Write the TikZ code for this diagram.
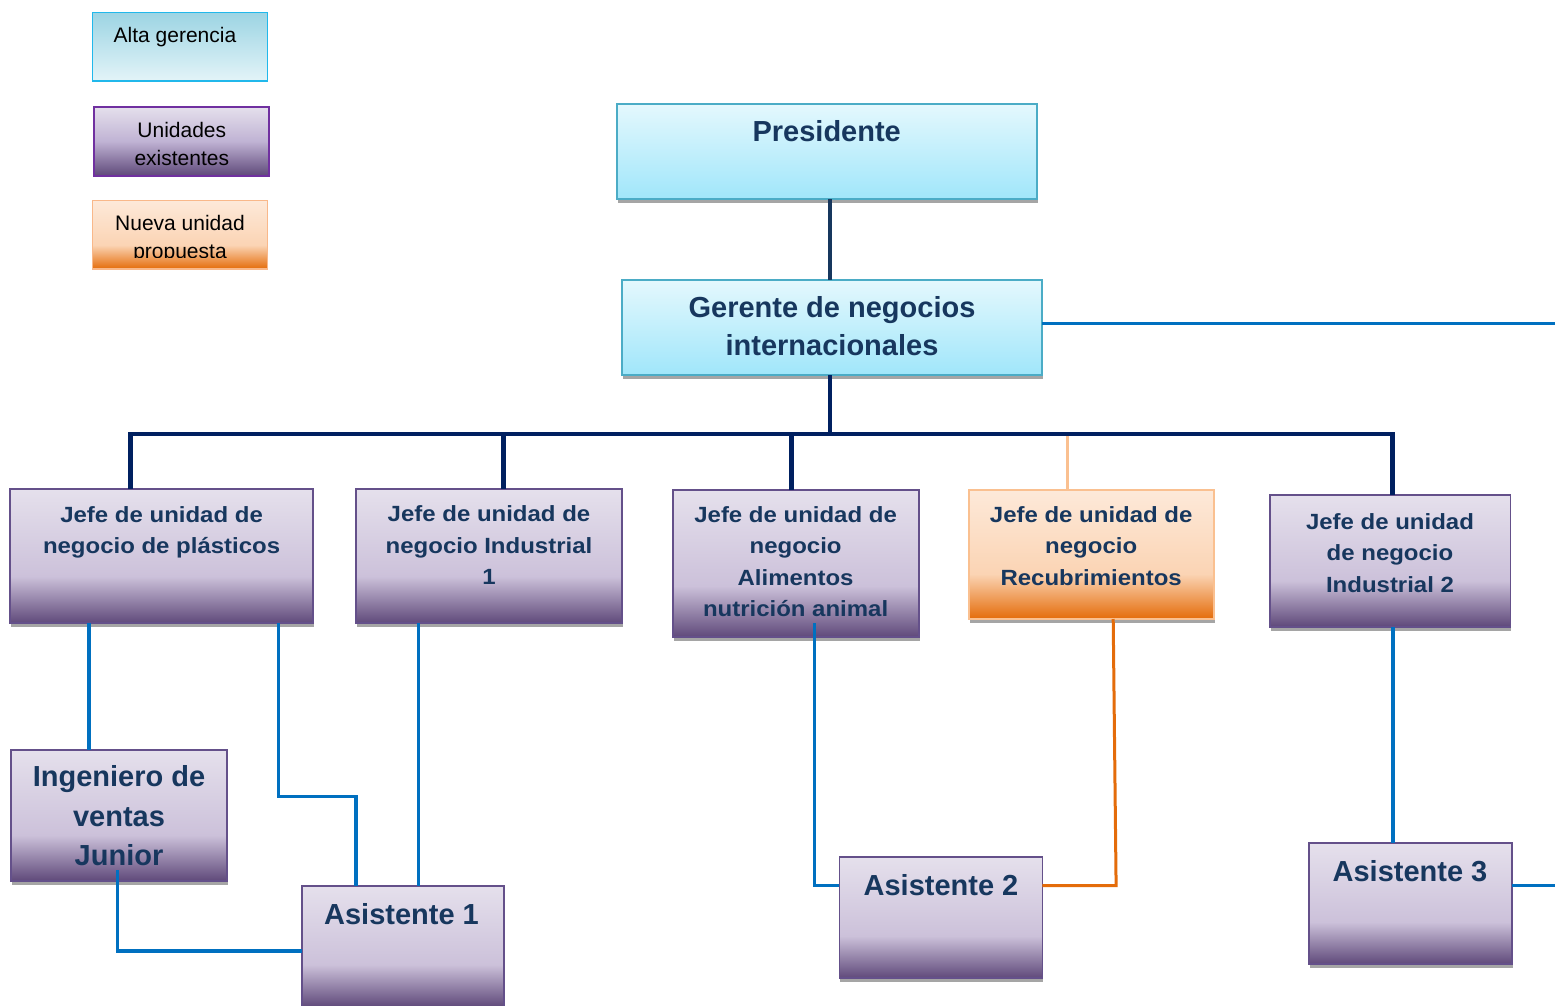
\documentclass[tikz,border=0pt]{standalone}
\usepackage{fontspec}
\setmainfont{Liberation Sans}
\newfontfamily\widesans{Liberation Sans}[FakeStretch=1.09]
\definecolor{ptop}{HTML}{E5E0EC}
\definecolor{pmid}{HTML}{CCC1DA}
\definecolor{pbot}{HTML}{5F497A}
\definecolor{plmid}{HTML}{C0B3D4}
\definecolor{ctop}{HTML}{E4F8FD}
\definecolor{cbot}{HTML}{A0E6FA}
\definecolor{lctop}{HTML}{9CD4E3}
\definecolor{lcbot}{HTML}{E3F4F8}
\definecolor{otop}{HTML}{FDE9D9}
\definecolor{omid}{HTML}{FBD4B4}
\definecolor{obot}{HTML}{E46C0A}
\definecolor{cNavyTop}{HTML}{17375E}
\definecolor{cBus}{HTML}{002060}
\definecolor{cBlue}{HTML}{0070C0}
\definecolor{cOrange}{HTML}{E46C0A}
\definecolor{cLightOr}{HTML}{FAC090}
\definecolor{cText}{HTML}{17375E}
\definecolor{cCyanBorder}{HTML}{4BACC6}
\definecolor{cPurpBorder}{HTML}{64508A}
\definecolor{cOrBorder}{HTML}{FAC090}
\definecolor{cLegCyanBorder}{HTML}{21B8EB}
\definecolor{cLegPurpBorder}{HTML}{7030A0}
\definecolor{cLegOrBorder}{HTML}{F9B88A}
\definecolor{cShadow}{HTML}{A5A5A5}
\pgfdeclareverticalshading{shpurp}{100bp}{color(0bp)=(pbot); color(25bp)=(pbot); color(42.5bp)=(pmid); color(75bp)=(ptop); color(100bp)=(ptop)}
\pgfdeclareverticalshading{shlegpurp}{100bp}{color(0bp)=(pbot); color(25bp)=(pbot); color(50bp)=(plmid); color(75bp)=(ptop); color(100bp)=(ptop)}
\pgfdeclareverticalshading{shcyan}{100bp}{color(0bp)=(cbot); color(25bp)=(cbot); color(75bp)=(ctop); color(100bp)=(ctop)}
\pgfdeclareverticalshading{shlegcyan}{100bp}{color(0bp)=(lcbot); color(25bp)=(lcbot); color(75bp)=(lctop); color(100bp)=(lctop)}
\pgfdeclareverticalshading{shor}{100bp}{color(0bp)=(obot); color(25bp)=(obot); color(42.5bp)=(omid); color(75bp)=(otop); color(100bp)=(otop)}
\tikzset{
  boxbase/.style={rectangle, inner sep=0pt, outer sep=0pt, anchor=north west},
  shadowed/.style={preaction={fill=cShadow, transform canvas={xshift=1pt, yshift=-4pt}}},
  cyanbox/.style={boxbase, shadowed, shade, shading=shcyan, draw=cCyanBorder, line width=1.8pt},
  purpbox/.style={boxbase, shadowed, shade, shading=shpurp, draw=cPurpBorder, line width=1.8pt},
  orbox/.style={boxbase, shadowed, shade, shading=shor, draw=cOrBorder, line width=1.8pt},
  legcyan/.style={boxbase, shade, shading=shlegcyan, draw=cLegCyanBorder, line width=1.5pt},
  legpurp/.style={boxbase, shade, shading=shlegpurp, draw=cLegPurpBorder, line width=1.8pt},
  legor/.style={boxbase, shade, shading=shor, draw=cLegOrBorder, line width=1.5pt},
  txtbig/.style={inner sep=0pt, anchor=base, text=cText, font=\fontsize{29}{37.5}\selectfont\bfseries},
  txtmid/.style={inner sep=0pt, anchor=base, text=cText, font=\widesans\fontsize{22}{31.5}\selectfont\bfseries},
  txtleg/.style={inner sep=0pt, anchor=base, text=black, font=\fontsize{21}{28}\selectfont},
  topline/.style={draw=cNavyTop, line width=4.5pt},
  busline/.style={draw=cBus, line width=4.5pt, line join=miter},
  blueline/.style={draw=cBlue, line width=3.3pt, line join=miter},
  orline/.style={draw=cOrange, line width=3pt, line join=miter},
  lorline/.style={draw=cLightOr, line width=3pt},
}
\begin{document}
\begin{tikzpicture}[x=1pt, y=-1pt]
\useasboundingbox (0,0) rectangle (1555,1006);
\clip (0,0) rectangle (1555,1006);
% legend
\node[legcyan, minimum width=175pt, minimum height=68.7pt] (leg1) at (92.3,12.3) {};
\node[legpurp, minimum width=175pt, minimum height=69pt] (leg2) at (94.3,106.7) {};
\node[legor, minimum width=175pt, minimum height=68.3pt] (leg3) at (92.3,200.7) {};
\node[txtleg] (tleg1) at (175,42.3) {Alta gerencia};
\node[txtleg] (tleg2) at (181.8,137.7) {\parbox[t]{170pt}{\centering Unidades\\existentes}};
\begin{scope}
\clip (92.3,200.7) rectangle (267.3,257.6);
\node[txtleg] (tleg3) at (180,230.8) {\parbox[t]{170pt}{\fontsize{21}{27.2}\selectfont\centering Nueva unidad\\propuesta}};
\end{scope}
% boxes
\node[cyanbox, minimum width=420pt, minimum height=95.3pt] (pres) at (616.7,104) {};
\node[cyanbox, minimum width=420.6pt, minimum height=95pt] (ger) at (621.7,280) {};
\node[purpbox, minimum width=302.8pt, minimum height=134.3pt] (plas) at (10.2,489) {};
\node[purpbox, minimum width=265.7pt, minimum height=134.3pt] (ind1) at (356.3,489) {};
\node[purpbox, minimum width=246pt, minimum height=147pt] (alim) at (672.6,490.3) {};
\node[orbox, minimum width=244.8pt, minimum height=128.7pt] (recu) at (968.8,490.3) {};
\node[purpbox, minimum width=240.8pt, minimum height=131.4pt] (ind2) at (1269.6,495.3) {};
\node[purpbox, minimum width=216.6pt, minimum height=131pt] (ing) at (10.7,750) {};
\node[purpbox, minimum width=202.3pt, minimum height=121.3pt] (asi1) at (301.7,885.7) {};
\node[purpbox, minimum width=203pt, minimum height=121.3pt] (asi2) at (839.4,857) {};
\node[purpbox, minimum width=202.5pt, minimum height=121pt] (asi3) at (1309.2,843.3) {};
% connector coordinates
\coordinate (xPG) at (830,0);
\coordinate (busL) at (130.6,434);
\coordinate (busR) at (1392.3,434);
\coordinate (xI1) at (503.3,0);
\coordinate (xAl) at (791.3,0);
\coordinate (xRe) at (1067,0);
\coordinate (gerOut) at (1555,323.3);
\coordinate (xP1) at (89,0);
\coordinate (xP2) at (278.5,0);
\coordinate (kP2) at (356,796.7);
\coordinate (xI1b) at (418.7,0);
\coordinate (ingStart) at (117.7,870);
\coordinate (yA1) at (0,951);
\coordinate (alStart) at (814.6,623.3);
\coordinate (yA2) at (0,885.7);
\coordinate (reTop) at (1113.2,0);
\coordinate (reBot) at (1116.1,885.7);
\coordinate (xI2) at (1392.9,0);
\coordinate (a3Out) at (1555,885.7);
% connectors
\draw[lorline] (recu.north -| xRe) -- (xRe |- busL);
\draw[topline] (pres.south -| xPG) -- (ger.north -| xPG);
\draw[busline] (ger.south -| xPG) -- (xPG |- busL);
\draw[busline] (plas.north -| busL) -- (busL) -- (busR) -- (ind2.north -| busR);
\draw[busline] (ind1.north -| xI1) -- (xI1 |- busL);
\draw[busline] (alim.north -| xAl) -- (xAl |- busL);
\draw[blueline] (gerOut -| ger.east) -- (gerOut);
\draw[blueline] (plas.south -| xP1) -- (ing.north -| xP1);
\draw[blueline] (plas.south -| xP2) |- (kP2) -- (asi1.north -| kP2);
\draw[blueline] (ind1.south -| xI1b) -- (asi1.north -| xI1b);
\draw[blueline] (ingStart) |- (asi1.west |- yA1);
\draw[blueline] (alStart) |- (asi2.west |- yA2);
\draw[orline] (recu.south -| reTop) -- (reBot) -- (asi2.east |- yA2);
\draw[blueline] (ind2.south -| xI2) -- (asi3.north -| xI2);
\draw[blueline] (a3Out -| asi3.east) -- (a3Out);
% texts
\node[txtbig] (tpres) at (826.7,142) {Presidente};
\node[txtbig] (tger) at (832,317.7) {\parbox[t]{400pt}{\fontsize{29}{37.3}\selectfont\centering Gerente de negocios\\internacionales}};
\node[txtmid] (tplas) at (161.6,522.3) {\parbox[t]{290pt}{\centering Jefe de unidad de\\negocio de plásticos}};
\node[txtmid] (tind1) at (489,521.7) {\parbox[t]{250pt}{\centering Jefe de unidad de\\negocio Industrial\\1}};
\node[txtmid] (talim) at (795.6,522.3) {\parbox[t]{240pt}{\centering Jefe de unidad de\\negocio\\Alimentos\\nutrición animal}};
\node[txtmid] (trecu) at (1091.2,522.3) {\parbox[t]{240pt}{\centering Jefe de unidad de\\negocio\\Recubrimientos}};
\node[txtmid] (tind2) at (1390,529) {\parbox[t]{230pt}{\centering Jefe de unidad\\de negocio\\Industrial 2}};
\node[txtbig] (ting) at (119,786.7) {\parbox[t]{210pt}{\fontsize{29}{39.5}\selectfont\centering Ingeniero de\\ventas\\Junior}};
\node[txtbig] (tasi1) at (401.5,924) {Asistente 1};
\node[txtbig] (tasi2) at (941,895) {Asistente 2};
\node[txtbig] (tasi3) at (1410,881.7) {Asistente 3};
\end{tikzpicture}
\end{document}
